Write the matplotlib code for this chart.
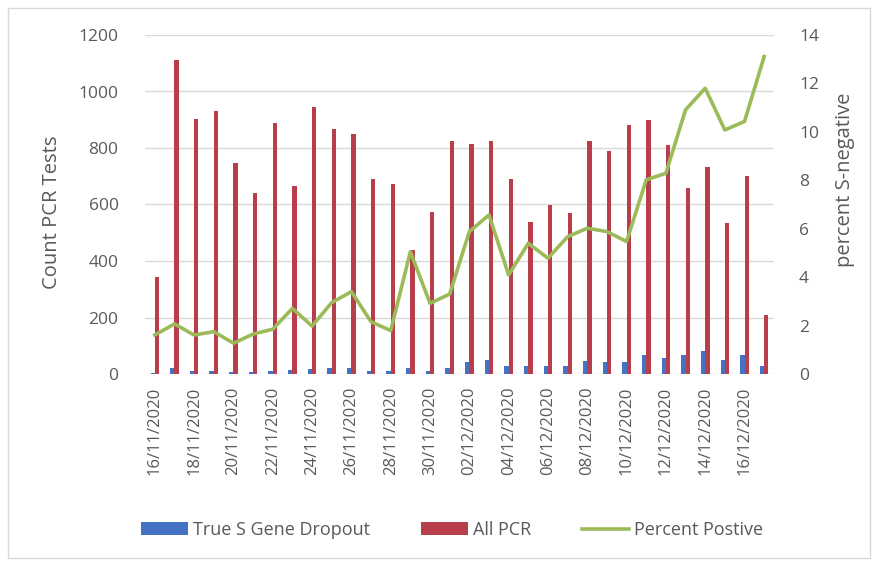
import numpy as np
import pandas as pd
import matplotlib
matplotlib.use("Agg")
import matplotlib.pyplot as plt
from matplotlib.patches import Rectangle

plt.rcParams['font.family'] = ['Open Sans', 'DejaVu Sans']

dates = pd.date_range("2020-11-16", "2020-12-17").strftime("%d/%m/%Y").tolist()

all_pcr = [345, 1112, 903, 932, 746, 640, 887, 667, 946, 866, 850, 689, 671, 438, 575, 826,
           814, 825, 690, 539, 598, 569, 825, 789, 881, 899, 810, 660, 734, 533, 702, 209]
s_dropout = [5, 20, 12, 12, 8, 8, 12, 15, 18, 22, 22, 12, 12, 20, 12, 22,
             41, 51, 27, 27, 27, 27, 47, 41, 41, 66, 57, 66, 83, 51, 66, 27]
pct_positive = [1.61, 2.07, 1.61, 1.75, 1.27, 1.65, 1.85, 2.71, 1.98, 2.95, 3.40, 2.16, 1.79, 5.05, 2.92, 3.30,
                5.88, 6.57, 4.09, 5.40, 4.78, 5.67, 6.02, 5.88, 5.47, 8.02, 8.29, 10.91, 11.80, 10.08, 10.43, 13.11]

blue = "#4472C4"
red = "#B83E4C"
green = "#9BBB59"
txt = "#595959"

W, H = 877, 566
fig = plt.figure(figsize=(W / 100, H / 100), dpi=100)
ax = fig.add_axes([145 / W, 1 - 374 / H, (774 - 145) / W, (374 - 35) / H])
ax2 = ax.twinx()

x = np.arange(len(dates))
ax.bar(x - 0.11, s_dropout, width=0.22, color=blue, label="True S Gene Dropout", zorder=2)
ax.bar(x + 0.11, all_pcr, width=0.22, color=red, label="All PCR", zorder=2)
ax2.plot(x, pct_positive, color=green, lw=2.6, label="Percent Postive")

ax.set_xlim(-0.5, len(dates) - 0.5)
ax.set_ylim(0, 1200)
ax2.set_ylim(0, 14)
ax.set_yticks(range(0, 1201, 200))
ax2.set_yticks(range(0, 15, 2))
ax.set_xticks(x[::2])
ax.set_xticklabels(dates[::2], rotation=90)

ax.grid(axis="y", color="#D9D9D9", lw=1)
ax.set_axisbelow(True)
for a in (ax, ax2):
    for s in a.spines.values():
        s.set_visible(False)
    a.tick_params(length=0, colors=txt, labelsize=12.5)
ax.tick_params(axis="y", pad=19)
ax2.tick_params(axis="y", pad=18)
ax.tick_params(axis="x", pad=9, labelsize=12)

fig.text(52 / W, 1 - 212 / H, "Count PCR Tests", rotation=90, ha="center", va="center",
         color=txt, fontsize=14.5)
fig.text(845 / W, 1 - 180 / H, "percent S-negative", rotation=90, ha="center", va="center",
         color=txt, fontsize=14.5)

h1, l1 = ax.get_legend_handles_labels()
h2, l2 = ax2.get_legend_handles_labels()
fig.legend(h1 + h2, l1 + l2, loc="center", bbox_to_anchor=(452 / W, 1 - 530 / H), ncol=3,
           frameon=False, fontsize=13, labelcolor=txt, handlelength=2.6, handleheight=0.7,
           columnspacing=2.8, handletextpad=0.3)

fig.patches.append(Rectangle((8 / W, 8 / H), 862 / W, 550 / H, transform=fig.transFigure,
                             fill=False, edgecolor="#D9D9D9", lw=1))

fig.savefig("out.png", dpi=100)
